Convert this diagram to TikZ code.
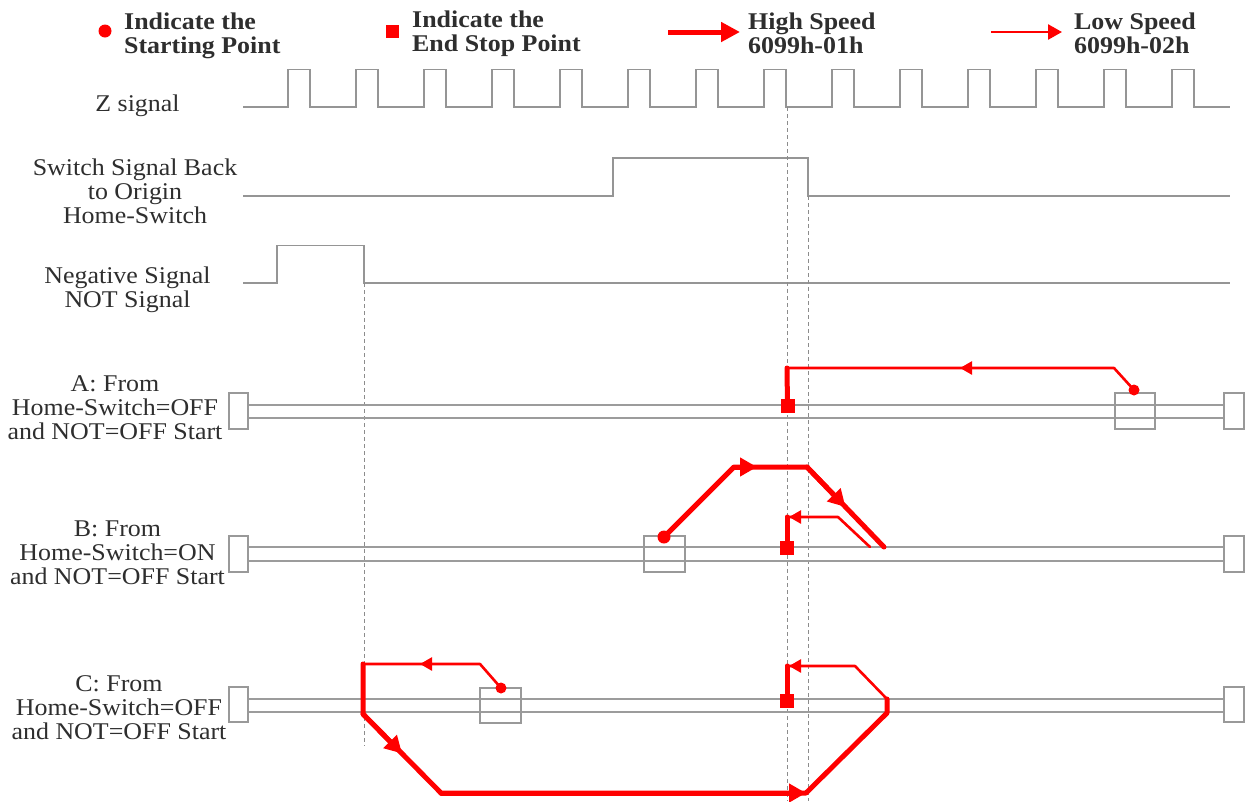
\documentclass[tikz,border=0pt]{standalone}
\usepackage{fontspec}
\setmainfont[FakeStretch=1.08]{Liberation Serif}
\usetikzlibrary{arrows.meta,calc}
\definecolor{sigc}{HTML}{959595}
\definecolor{trkc}{HTML}{9C9C9C}
\definecolor{boxc}{HTML}{999999}
\definecolor{guidec}{HTML}{8C8C8C}
\definecolor{txtc}{HTML}{2E2E2E}
\definecolor{redc}{HTML}{FF0000}
\begin{document}
\begin{tikzpicture}[x=1pt,y=-1pt,
  txt/.style={font=\fontsize{24}{24}\selectfont, text=txtc, inner sep=0pt, align=center},
  leg/.style={font=\fontsize{24}{24}\selectfont\bfseries, text=txtc, inner sep=0pt, align=left, anchor=west},
  sig/.style={draw=sigc, line width=1.4pt},
  trk/.style={draw=trkc, line width=1.5pt},
  bx/.style={draw=boxc, line width=1.3pt},
  guide/.style={draw=guidec, line width=0.9pt, dash pattern=on 4pt off 3pt},
  fast/.style={draw=redc, line width=5pt, line join=round, line cap=round},
  slow/.style={draw=redc, line width=2.6pt, line join=round, line cap=round},
  fasttip/.style={-{Triangle[length=17pt,width=18pt]}},
  slowtip/.style={-{Triangle[length=12pt,width=13pt]}},
  startdot/.style={circle, fill=redc, inner sep=0pt, minimum size=#1},
  stopsq/.style={rectangle, fill=redc, inner sep=0pt, minimum width=14pt, minimum height=14pt},
]
\useasboundingbox (0,0) rectangle (1251,801);

% ---------- legend ----------
\node[startdot=13pt] (ldot) at (105,31) {};
\node[leg] (ltxt1) at (124,35.7) {Indicate the\\Starting Point};
\node[stopsq, minimum width=13pt, minimum height=13pt] (lsq) at (392,31) {};
\node[leg] (ltxt2) at (412,33.7) {Indicate the\\End Stop Point};
\coordinate (hs1) at (668,32);
\coordinate (hs2) at (740,32);
\draw[draw=redc, line width=5pt, -{Triangle[length=19pt,width=19pt]}] (hs1) -- (hs2);
\node[leg] (ltxt3) at (748,32.9) {High Speed\\6099h-01h};
\coordinate (ls1) at (991,32);
\coordinate (ls2) at (1062,32);
\draw[draw=redc, line width=2.6pt, -{Triangle[length=14pt,width=15pt]}] (ls1) -- (ls2);
\node[leg] (ltxt4) at (1074,32.9) {Low Speed\\6099h-02h};

% ---------- signal labels ----------
\node[txt, anchor=base] (zlab) at (137.5,111) {Z signal};
\node[txt] (hslab) at (135,190.8) {Switch Signal Back\\to Origin\\Home-Switch};
\node[txt] (notlab) at (127.5,289.4) {Negative Signal\\NOT Signal};

% ---------- signals ----------
\draw[sig] (243,107) \foreach \k in {0,...,13} { -- ({288+68*\k},107) -- ({288+68*\k},69.5) -- ({310+68*\k},69.5) -- ({310+68*\k},107) } -- (1230,107);
\draw[sig] (243,196) -- (613,196) -- (613,158) -- (808,158) -- (808,196) -- (1230,196);
\draw[sig] (243,283) -- (277,283) -- (277,245.5) -- (364,245.5) -- (364,283) -- (1230,283);

% ---------- guide lines ----------
\draw[guide] (364,283) -- (364,746);
\draw[guide] (787,107) -- (787,801);
\draw[guide] (808,196) -- (808,801);

% ---------- row labels ----------
\node[txt] (alab) at (115,407.6) {A: From\\Home-Switch=OFF\\and NOT=OFF Start};
\node[txt] (blab) at (117.5,553.2) {B: From\\Home-Switch=ON\\and NOT=OFF Start};
\node[txt] (clab) at (119,708) {C: From\\Home-Switch=OFF\\and NOT=OFF Start};

% ---------- tracks ----------
% A
\draw[trk] (248,405) -- (1224,405);
\draw[trk] (248,418) -- (1224,418);
\draw[bx] (229,393) rectangle (248,429);
\draw[bx] (1115,393) rectangle (1155,429);
\draw[bx] (1224,393) rectangle (1244,429);
% B
\draw[trk] (248,547) -- (1224,547);
\draw[trk] (248,561) -- (1224,561);
\draw[bx] (229,536) rectangle (248,572);
\draw[bx] (644,536) rectangle (685,572);
\draw[bx] (1224,536) rectangle (1244,572);
% C
\draw[trk] (248,699) -- (1224,699);
\draw[trk] (248,712) -- (1224,712);
\draw[bx] (229,687) rectangle (248,722);
\draw[bx] (480,688) rectangle (521,723);
\draw[bx] (1224,687) rectangle (1244,722);

% ---------- path A ----------
\node[startdot=11pt] (adot) at (1134,390) {};
\coordinate (a1) at (1114,368);
\coordinate (a2) at (787,368);
\coordinate (at1) at (960,368);
\draw[slow] (adot.center) -- (a1) -- (a2);
\draw[slow, slowtip] (a1) -- (at1);
\node[stopsq] (asq) at (787.5,406) {};
\draw[fast] (a2) -- (asq.center);

% ---------- path B ----------
\node[startdot=13pt] (bdot) at (664,537) {};
\coordinate (b1) at (734,467);
\coordinate (b2) at (807,467);
\coordinate (b3) at (884,547);
\coordinate (bt1) at (757,467);
\coordinate (bt2) at ($(b2)!0.5!(b3)$);
\draw[fast] (bdot.center) -- (b1) -- (b2) -- (b3);
\draw[fast, fasttip] (b1) -- (bt1);
\draw[fast, fasttip] (b2) -- (bt2);
\coordinate (b4) at (870,547);
\coordinate (b5) at (838,517);
\coordinate (b6) at (787,517);
\coordinate (bt3) at (789,517);
\draw[slow] (b4) -- (b5) -- (b6);
\draw[slow, slowtip] (b5) -- (bt3);
\node[stopsq] (bsq) at (787,547.5) {};
\draw[fast] (b6) -- (bsq.center);

% ---------- path C ----------
\node[startdot=11pt] (cdot) at (501,688) {};
\coordinate (c1) at (480,664);
\coordinate (c2) at (363,664);
\coordinate (ct1) at (420,664);
\draw[slow] (cdot.center) -- (c1) -- (c2);
\draw[slow, slowtip] (c1) -- (ct1);
\coordinate (c3) at (363,714);
\coordinate (c4) at (441,793);
\coordinate (c5) at (806,793);
\coordinate (c6) at (887,713);
\coordinate (c7) at (887,699);
\coordinate (ct2) at ($(c3)!0.5!(c4)$);
\draw[fast] (c2) -- (c3) -- (c4) -- (c5) -- (c6) -- (c7);
\draw[fast, fasttip] (c3) -- (ct2);
\draw[fast, fasttip] (c4) -- (c5);
\coordinate (c8) at (855,666);
\coordinate (c9) at (787,666);
\coordinate (ct3) at (789,666);
\draw[slow] (c7) -- (c8) -- (c9);
\draw[slow, slowtip] (c8) -- (ct3);
\node[stopsq] (csq) at (787,700.5) {};
\draw[fast] (c9) -- (csq.center);
\end{tikzpicture}
\end{document}
